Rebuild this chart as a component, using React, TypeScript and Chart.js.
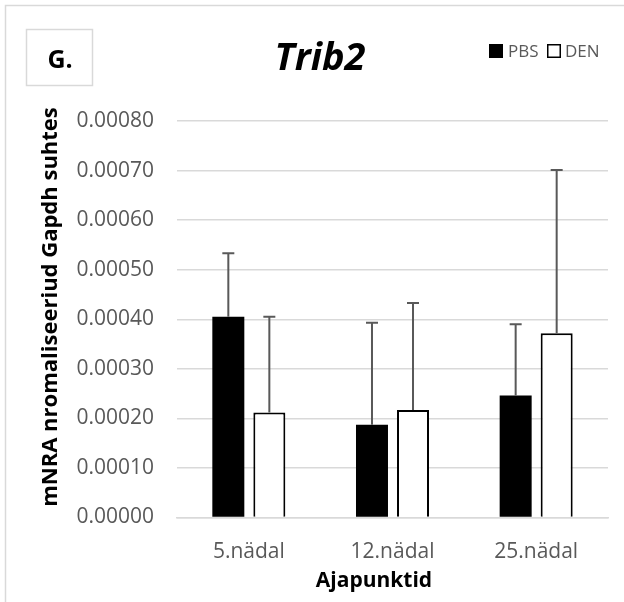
import React, { useEffect, useRef } from "react";
import { Chart, registerables } from "chart.js";

Chart.register(...registerables);

// Time points and relative mRNA levels (normalised to Gapdh)
const categories = ["5.nädal", "12.nädal", "25.nädal"];
const pbsValues = [0.000405, 0.000187, 0.000246];
const pbsErrors = [0.000128, 0.000206, 0.000144];
const denValues = [0.000212, 0.000217, 0.000372];
const denErrors = [0.000193, 0.000216, 0.000329];
const seriesNames = ["PBS", "DEN"];
const yTicks = [0, 0.0001, 0.0002, 0.0003, 0.0004, 0.0005, 0.0006, 0.0007, 0.0008];

const FONT = "'Open Sans', 'Noto Sans', sans-serif";
const GREY = "#595959";

const errorsBySeries = [pbsErrors, denErrors];

const decorPlugin = {
  id: "decor",
  beforeDraw(chart: any) {
    const ctx = chart.ctx;
    ctx.save();
    ctx.fillStyle = "#ffffff";
    ctx.fillRect(0, 0, chart.width, chart.height);
    // outer frame (runs past the right and bottom edges)
    ctx.strokeStyle = "#d9d9d9";
    ctx.lineWidth = 1.5;
    ctx.strokeRect(5.5, 5.5, chart.width + 20, chart.height + 20);
    ctx.restore();
  },
  afterDatasetsDraw(chart: any) {
    const ctx = chart.ctx;
    const yScale = chart.scales.y;
    ctx.save();
    ctx.strokeStyle = GREY;
    ctx.lineWidth = 2;
    chart.data.datasets.forEach((ds: any, di: number) => {
      const meta = chart.getDatasetMeta(di);
      meta.data.forEach((bar: any, i: number) => {
        const v = ds.data[i];
        const e = errorsBySeries[di][i];
        const x = bar.x;
        const y0 = yScale.getPixelForValue(v);
        const y1 = yScale.getPixelForValue(v + e);
        ctx.beginPath();
        ctx.moveTo(x, y0);
        ctx.lineTo(x, y1);
        ctx.moveTo(x - 6, y1);
        ctx.lineTo(x + 6, y1);
        ctx.stroke();
      });
    });
    ctx.restore();
  },
  afterDraw(chart: any) {
    const ctx = chart.ctx;
    ctx.save();

    // panel letter box
    ctx.strokeStyle = "#d9d9d9";
    ctx.lineWidth = 1.5;
    ctx.strokeRect(26.5, 29.5, 66, 56);
    ctx.fillStyle = "#000000";
    ctx.font = `bold 25px ${FONT}`;
    ctx.textAlign = "center";
    ctx.textBaseline = "alphabetic";
    ctx.fillText("G.", 60, 68);

    // chart title
    ctx.font = `italic bold 38px ${FONT}`;
    ctx.fillText("Trib2", 320, 70);

    // legend
    ctx.font = `17px ${FONT}`;
    ctx.textAlign = "left";
    ctx.fillStyle = "#000000";
    ctx.fillRect(489, 44, 14, 14);
    ctx.fillStyle = GREY;
    ctx.fillText(seriesNames[0], 508, 57);
    ctx.strokeStyle = "#000000";
    ctx.lineWidth = 1.5;
    ctx.strokeRect(547.75, 44.75, 12.5, 12.5);
    ctx.fillStyle = GREY;
    ctx.fillText(seriesNames[1], 565, 57);

    // axis titles
    ctx.fillStyle = "#000000";
    ctx.font = `bold 21px ${FONT}`;
    ctx.textAlign = "center";
    ctx.fillText("Ajapunktid", 374, 587);

    ctx.font = `bold 22px ${FONT}`;
    ctx.translate(57, 307);
    ctx.rotate(-Math.PI / 2);
    ctx.fillText("mNRA nromaliseeriud Gapdh suhtes", 0, 0);
    ctx.restore();
  },
};

export default function App() {
  const canvasRef = useRef<HTMLCanvasElement | null>(null);

  useEffect(() => {
    document.body.style.margin = "0";
    const canvas = canvasRef.current;
    if (!canvas) return;
    const chart = new Chart(canvas, {
      type: "bar",
      data: {
        labels: categories,
        datasets: [
          {
            label: seriesNames[0],
            data: pbsValues,
            backgroundColor: "#000000",
            borderColor: "#000000",
            borderWidth: 0,
            categoryPercentage: 0.571,
            barPercentage: 0.78,
          },
          {
            label: seriesNames[1],
            data: denValues,
            backgroundColor: "#ffffff",
            borderColor: "#000000",
            borderWidth: 2,
            categoryPercentage: 0.571,
            barPercentage: 0.78,
          },
        ],
      },
      options: {
        responsive: false,
        animation: false,
        devicePixelRatio: 1,
        layout: { padding: { top: 121, right: 16, bottom: 0, left: 0 } },
        plugins: {
          legend: { display: false },
          title: { display: false },
          tooltip: { enabled: false },
        },
        scales: {
          x: {
            grid: { display: false },
            border: { display: true, color: "#d9d9d9", width: 1.5 },
            ticks: {
              color: GREY,
              font: { family: FONT, size: 21 },
              padding: 14,
            },
            afterFit(scale: any) {
              scale.height = 84.5;
            },
          },
          y: {
            min: 0,
            max: 0.0008,
            afterBuildTicks(scale: any) {
              scale.ticks = yTicks.map((v) => ({ value: v }));
            },
            grid: { color: "#d9d9d9", lineWidth: 1.5, drawTicks: false },
            border: { display: false },
            ticks: {
              color: GREY,
              font: { family: FONT, size: 21 },
              padding: 23,
              callback: (v: any) => Number(v).toFixed(5),
            },
            afterFit(scale: any) {
              scale.width = 177;
            },
          },
        },
      },
      plugins: [decorPlugin],
    });
    return () => chart.destroy();
  }, []);

  return (
    <div style={{ position: "absolute", left: 0, top: 0, width: 624, height: 602 }}>
      <canvas ref={canvasRef} width={624} height={602} />
    </div>
  );
}
